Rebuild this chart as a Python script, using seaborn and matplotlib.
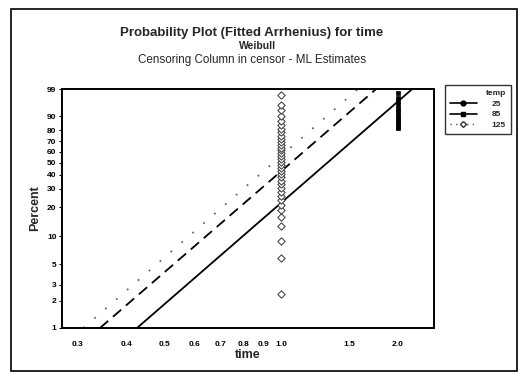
import numpy as np
import pandas as pd
import matplotlib
matplotlib.use("Agg")
import matplotlib.pyplot as plt
import seaborn as sns
from matplotlib.lines import Line2D
from matplotlib.patches import Rectangle
from matplotlib.ticker import NullLocator, FixedLocator, FixedFormatter

# ---------------- data ----------------
temps = ["25", "85", "125"]
# fitted Arrhenius-Weibull lines: time at 1% and at 99%
fit_pct = [1, 99]
fit_time_lo = [0.426, 0.342, 0.31]
fit_time_hi = [2.18, 1.76, 1.58]

# plotted points
pts85_time = 2.0
pts85_pct = [81.6, 83.5, 85.4, 87.2, 89.0, 90.7, 92.3, 93.8, 95.2, 96.5, 97.5, 98.4]
pts125_time = 1.0
pts125_pct = [2.4, 5.9, 8.9, 12.8, 15.9, 18.7, 21.0, 23.4, 25.8, 28.2, 30.6, 33.0,
              35.5, 38.0, 40.5, 43.0, 45.6, 48.2, 50.8, 53.4, 56.0, 58.7, 61.4,
              64.1, 66.8, 69.6, 72.4, 75.2, 78.1, 81.0, 84.0, 87.1, 90.2, 93.2,
              95.3, 98.1]

x_ticks = [0.3, 0.4, 0.5, 0.6, 0.7, 0.8, 0.9, 1.0, 1.5, 2.0]
x_tick_labels = ["0.3", "0.4", "0.5", "0.6", "0.7", "0.8", "0.9", "1.0", "1.5", "2.0"]
y_ticks = [1, 2, 3, 5, 10, 20, 30, 40, 50, 60, 70, 80, 90, 99]
y_tick_labels = [str(v) for v in y_ticks]

# ---------------- build tables ----------------
rows = []
for t, lo, hi in zip(temps, fit_time_lo, fit_time_hi):
    rows.append({"temp": t, "time": lo, "percent": fit_pct[0]})
    rows.append({"temp": t, "time": hi, "percent": fit_pct[1]})
lines_df = pd.DataFrame(rows)

pts_df = pd.concat([
    pd.DataFrame({"temp": "85", "time": pts85_time, "percent": pts85_pct}),
    pd.DataFrame({"temp": "125", "time": pts125_time, "percent": pts125_pct}),
], ignore_index=True)

# ---------------- style ----------------
sns.set_theme(style="white")
plt.rcParams['font.family'] = ['Liberation Sans', 'DejaVu Sans']

fig = plt.figure(figsize=(5.2, 3.74), dpi=100)
ax = fig.add_axes([62 / 520, 1 - 328 / 374, (434 - 62) / 520, (328 - 89) / 374])

pal = {"25": "black", "85": "black", "125": "#666666"}
sns.lineplot(data=lines_df, x="time", y="percent", hue="temp", style="temp",
             palette=pal, dashes={"25": "", "85": (6, 3.5), "125": (1, 7)},
             estimator=None, sort=False, legend=False, ax=ax, linewidth=1.3)

sub85 = pts_df[pts_df.temp == "85"]
sub125 = pts_df[pts_df.temp == "125"]
sns.scatterplot(data=sub125, x="time", y="percent", marker="D", s=14,
                facecolor="white", edgecolor="#333333", linewidth=0.7,
                legend=False, ax=ax, zorder=3)
sns.scatterplot(data=sub85, x="time", y="percent", marker="s", s=8,
                color="black", edgecolor="black", linewidth=0.5,
                legend=False, ax=ax, zorder=3)

# Weibull probability scale
def fwd(p):
    p = np.clip(np.asarray(p, dtype=float), 1e-6, 100 - 1e-6)
    return np.log(-np.log(1 - p / 100.0))

def inv(y):
    return 100.0 * (1 - np.exp(-np.exp(np.asarray(y, dtype=float))))

ax.set_xscale("log")
ax.set_yscale("function", functions=(fwd, inv))
ax.set_xlim(0.273, 2.48)
ax.set_ylim(1, 99)

ax.xaxis.set_major_locator(FixedLocator(x_ticks))
ax.xaxis.set_major_formatter(FixedFormatter(x_tick_labels))
ax.xaxis.set_minor_locator(NullLocator())
ax.yaxis.set_major_locator(FixedLocator(y_ticks))
ax.yaxis.set_major_formatter(FixedFormatter(y_tick_labels))
ax.yaxis.set_minor_locator(NullLocator())

ax.tick_params(axis="both", labelsize=6, colors="black")
ax.tick_params(axis="y", left=True, length=2, width=0.8, pad=2)
ax.tick_params(axis="x", bottom=False, pad=3)
for lab in ax.get_xticklabels() + ax.get_yticklabels():
    lab.set_fontweight("bold")

for sp in ax.spines.values():
    sp.set_color("black")
    sp.set_linewidth(1.4)

ax.set_xlabel("time", fontsize=9, fontweight="bold", labelpad=1)
ax.set_ylabel("Percent", fontsize=9, fontweight="bold", labelpad=4)

# titles
fig.text(252 / 520, 1 - 33 / 374, "Probability Plot (Fitted Arrhenius) for time",
         ha="center", va="center", fontsize=9.5, fontweight="bold")
fig.text(258 / 520, 1 - 46 / 374, "Weibull", ha="center", va="center",
         fontsize=7.5, fontweight="bold")
fig.text(252 / 520, 1 - 60 / 374, "Censoring Column in censor - ML Estimates",
         ha="center", va="center", fontsize=8.4)

# legend
handles = [
    Line2D([], [], color="black", lw=1.2, marker="o", ms=3.5),
    Line2D([], [], color="black", lw=1.2, marker="s", ms=3.5),
    Line2D([], [], color="#555555", lw=1.0, ls=(0, (1, 3)), marker="D", ms=3,
           markerfacecolor="white", markeredgecolor="#333333"),
]
leg = ax.legend(handles, temps, title="temp", loc="upper left",
                bbox_to_anchor=(445 / 520, 1 - 85 / 374), bbox_transform=fig.transFigure,
                borderaxespad=0, fontsize=6, title_fontsize=6, frameon=True,
                fancybox=False, edgecolor="black", handlelength=3.2, borderpad=0.6,
                labelspacing=0.35, alignment="right", handletextpad=1.8)
leg.get_frame().set_linewidth(1.0)
leg.get_title().set_fontweight("bold")
for txt in leg.get_texts():
    txt.set_fontweight("bold")

# outer frame
fig.add_artist(Rectangle((11 / 520, 1 - 371 / 374), (517 - 11) / 520, (371 - 9) / 374,
                         transform=fig.transFigure, fill=False, lw=1.2, ec="black"))

fig.savefig("out.png", dpi=100)
